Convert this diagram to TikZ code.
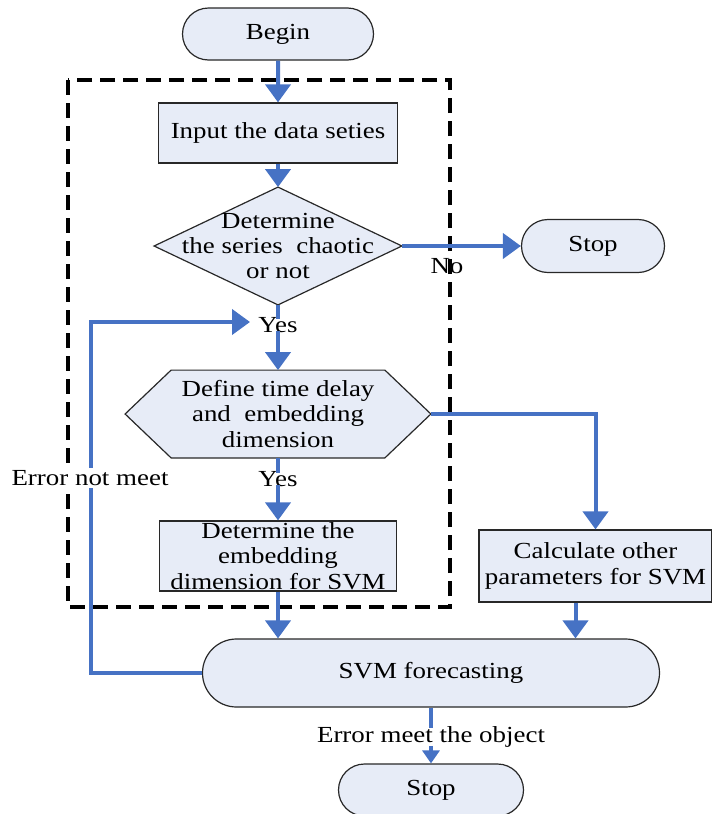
\documentclass[tikz,border=0pt]{standalone}
\usepackage{fontspec}
\setmainfont{Liberation Serif}[FakeStretch=1.17]
\usetikzlibrary{arrows.meta,shapes.misc,calc,backgrounds}

\definecolor{flowblue}{RGB}{70,114,196}
\definecolor{boxfill}{RGB}{231,236,247}
\definecolor{boxline}{RGB}{40,40,40}

\begin{document}
\begin{tikzpicture}[x=0.5pt,y=-0.5pt,
  every node/.style={font=\fontsize{11.5}{12.7}\selectfont, align=center, inner sep=0pt},
  box/.style={draw=boxline, fill=boxfill, line width=0.6pt},
  stadium/.style={box, rounded rectangle},
  shapebox/.style={fill=boxfill, draw=boxline, line width=0.6pt},
  flowline/.style={draw=flowblue, line width=2pt},
  flow/.style={flowline, -{Triangle[width=12.5pt,length=9pt]}},
  smallflow/.style={flowline, -{Triangle[width=8.5pt,length=6.5pt]}},
  tag/.style={fill=white, inner sep=1pt},
  frame/.style={draw=black, line width=2pt, dash pattern=on 7.5pt off 4pt}
]
\useasboundingbox (0,0) rectangle (712,814);

% process nodes
\node[stadium, minimum width=95.5pt, minimum height=26pt] (begin) at (278,34) {Begin};
\node[box, minimum width=119.5pt, minimum height=30pt] (input) at (278,133) {Input the data seties};
\node[minimum width=123.5pt, minimum height=58.5pt] (dia) at (278,246) {Determine\\the series~~chaotic\\or not};
\node[stadium, minimum width=71.5pt, minimum height=26.5pt] (stop1) at (593,246) {Stop};
\node[minimum width=152.5pt, minimum height=43.5pt] (hex) at (278,414) {Define time delay\\and~~embedding\\dimension};
\node[box, minimum width=118.5pt, minimum height=35pt] (det) at (278,556) {Determine the\\embedding\\dimension for SVM};
\node[box, minimum width=116.5pt, minimum height=36pt] (calc) at (595.5,566) {Calculate other\\parameters for SVM};
\node[stadium, minimum width=228.5pt, minimum height=34pt] (svm) at (431,673) {SVM forecasting};
\node[stadium, minimum width=92.5pt, minimum height=26pt] (stop2) at (431,790) {Stop};

% decision diamond and hexagon outlines behind their texts
\begin{scope}[on background layer]
  \path[shapebox] (dia.west) -- (dia.north) -- (dia.east) -- (dia.south) -- cycle;
  \path[shapebox] (hex.west) -- ([xshift=23pt]hex.north west) -- ([xshift=-23pt]hex.north east)
    -- (hex.east) -- ([xshift=-23pt]hex.south east) -- ([xshift=23pt]hex.south west) -- cycle;
\end{scope}

\node (nolab) at (447,266) {No};

% dashed frame around the preprocessing stage
\draw[frame] (68,80) rectangle (450,607);

% connectors
\coordinate (loop) at (91,322);
\node[tag] (yes1) at (278,325) {Yes};
\node[tag] (yes2) at (278,479) {Yes};

\draw[flow] (begin) -- (input);
\draw[flow] (input) -- (dia.north);
\draw[flow] (dia.east) -- (stop1.west);
\draw[flowline] (dia.south) -- ([yshift=-2pt]yes1.north);
\draw[flow] ([yshift=2pt]yes1.south) -- (hex.north);
\draw[flow] (hex.east) -| (calc.north);
\draw[flowline] (hex.south) -- ([yshift=-2pt]yes2.north);
\draw[flow] ([yshift=2pt]yes2.south) -- (det.north);
\draw[flow] (det.south) -- (det.south |- svm.north);
\draw[flow] ([xshift=-10pt]calc.south) -- ([xshift=-10pt]calc.south |- svm.north);
\draw[flow, shorten >=3pt] (svm.west) -| (loop) -- (loop -| yes1.west);

\node[tag] (errno) at (90,478) {Error not meet};
\node[tag] (errok) at (431,737) {Error meet the object};
\draw[flowline] (svm.south) -- ([yshift=-2pt]errok.north);
\draw[smallflow] ([yshift=2pt]errok.south) -- (stop2.north);
\end{tikzpicture}
\end{document}
